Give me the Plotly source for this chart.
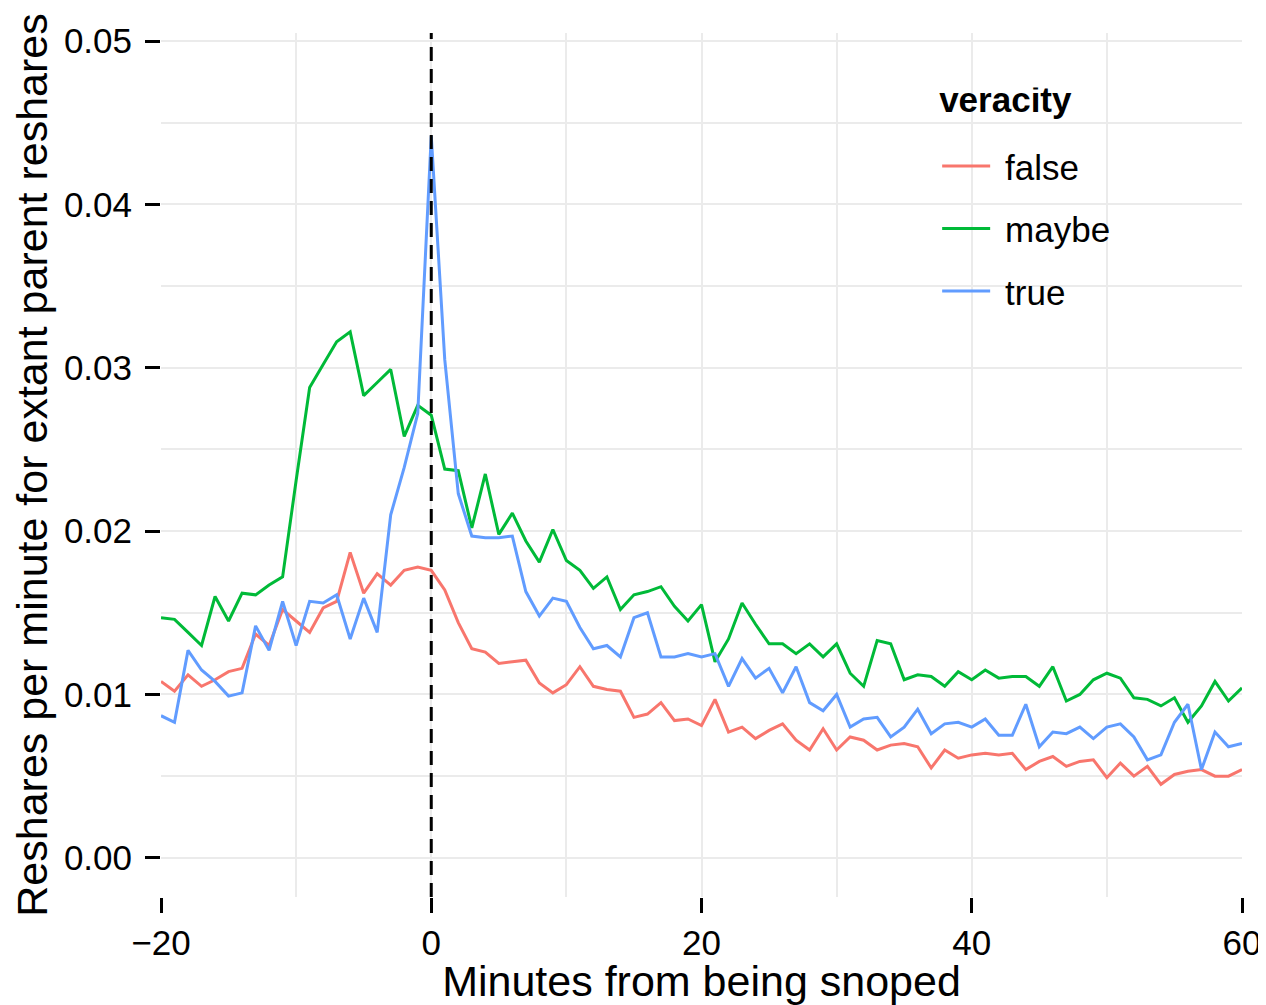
import plotly.graph_objects as go

minutes = list(range(-20, 61))

false_vals = [
    0.0108, 0.0102, 0.0112, 0.0105, 0.0109, 0.0114, 0.0116, 0.0137, 0.0130, 0.0152,
    0.0145, 0.0138, 0.0153, 0.0157, 0.0187, 0.0162, 0.0174, 0.0167, 0.0176, 0.0178,
    0.0176, 0.0164, 0.0144, 0.0128, 0.0126, 0.0119, 0.0120, 0.0121, 0.0107, 0.0101,
    0.0106, 0.0117, 0.0105, 0.0103, 0.0102, 0.0086, 0.0088, 0.0095, 0.0084, 0.0085,
    0.0081, 0.0097, 0.0077, 0.0080, 0.0073, 0.0078, 0.0082, 0.0072, 0.0066, 0.0079,
    0.0066, 0.0074, 0.0072, 0.0066, 0.0069, 0.0070, 0.0068, 0.0055, 0.0066, 0.0061,
    0.0063, 0.0064, 0.0063, 0.0064, 0.0054, 0.0059, 0.0062, 0.0056, 0.0059, 0.0060,
    0.0049, 0.0058, 0.0050, 0.0056, 0.0045, 0.0051, 0.0053, 0.0054, 0.0050, 0.0050,
    0.0054,
]

maybe_vals = [
    0.0147, 0.0146, 0.0138, 0.0130, 0.0160, 0.0145, 0.0162, 0.0161, 0.0167, 0.0172,
    0.0231, 0.0288, 0.0302, 0.0316, 0.0322, 0.0283, 0.0291, 0.0299, 0.0258, 0.0277,
    0.0271, 0.0238, 0.0237, 0.0202, 0.0235, 0.0198, 0.0211, 0.0194, 0.0181, 0.0201,
    0.0182, 0.0176, 0.0165, 0.0172, 0.0152, 0.0161, 0.0163, 0.0166, 0.0154, 0.0145,
    0.0155, 0.0120, 0.0134, 0.0156, 0.0143, 0.0131, 0.0131, 0.0125, 0.0131, 0.0123,
    0.0131, 0.0113, 0.0105, 0.0133, 0.0131, 0.0109, 0.0112, 0.0111, 0.0105, 0.0114,
    0.0109, 0.0115, 0.0110, 0.0111, 0.0111, 0.0105, 0.0117, 0.0096, 0.0100, 0.0109,
    0.0113, 0.0110, 0.0098, 0.0097, 0.0093, 0.0098, 0.0083, 0.0093, 0.0108, 0.0096,
    0.0104,
]

true_vals = [
    0.0087, 0.0083, 0.0127, 0.0115, 0.0108, 0.0099, 0.0101, 0.0142, 0.0127, 0.0157,
    0.0130, 0.0157, 0.0156, 0.0161, 0.0134, 0.0159, 0.0138, 0.0210, 0.0239, 0.0272,
    0.0442, 0.0305, 0.0223, 0.0197, 0.0196, 0.0196, 0.0197, 0.0163, 0.0148, 0.0159,
    0.0157, 0.0141, 0.0128, 0.0130, 0.0123, 0.0147, 0.0150, 0.0123, 0.0123, 0.0125,
    0.0123, 0.0125, 0.0105, 0.0122, 0.0110, 0.0116, 0.0101, 0.0117, 0.0095, 0.0090,
    0.0100, 0.0080, 0.0085, 0.0086, 0.0074, 0.0080, 0.0091, 0.0076, 0.0082, 0.0083,
    0.0080, 0.0085, 0.0075, 0.0075, 0.0094, 0.0068, 0.0077, 0.0076, 0.0080, 0.0073,
    0.0080, 0.0082, 0.0074, 0.0060, 0.0063, 0.0083, 0.0094, 0.0054, 0.0077, 0.0068,
    0.0070,
]

series_names = ["false", "maybe", "true"]
series_colors = ["#F8766D", "#00BA38", "#619CFF"]
series_values = [false_vals, maybe_vals, true_vals]

FONT = "Liberation Sans, Arial, Helvetica, sans-serif"
GRID = "#EBEBEB"
GAP = "\u2009\u200a"  # small spacing between legend line and label

fig = go.Figure()
for name, color, vals in zip(series_names, series_colors, series_values):
    fig.add_trace(go.Scatter(
        x=minutes, y=vals, mode="lines", name=GAP + name, legendgroup=name,
        line=dict(color=color, width=3),
    ))

fig.add_shape(type="line", x0=0, x1=0, xref="x", y0=0, y1=1, yref="paper",
              line=dict(color="black", width=3, dash="14px,8px"), layer="above")

fig.update_layout(
    width=1258, height=997,
    margin=dict(l=153, r=24, t=25, b=108, autoexpand=False),
    paper_bgcolor="white", plot_bgcolor="white",
    font=dict(family=FONT, size=35, color="black"),
    showlegend=True,
    legend=dict(
        x=0.718, y=0.937, xanchor="left", yanchor="top",
        bgcolor="rgba(0,0,0,0)",
        font=dict(family=FONT, size=35, color="black"),
        title=dict(text="<span style='font-size:35px'><b>veracity</b></span><br> ",
                   font=dict(family=FONT, size=19, color="black")),
        itemwidth=48, tracegroupgap=14,
    ),
    xaxis=dict(
        range=[-20, 60], tickvals=[-20, 0, 20, 40, 60],
        showgrid=True, gridcolor=GRID, gridwidth=1.5,
        minor=dict(tickvals=[-10, 10, 30, 50], showgrid=True, gridcolor=GRID, gridwidth=1.5, ticks=""),
        zeroline=False, showline=False,
        ticks="outside", ticklen=15, tickwidth=2.5, tickcolor="black",
        ticklabelstandoff=0,
        tickfont=dict(family=FONT, size=35, color="black"),
        title=dict(text="Minutes from being snoped", standoff=12,
                   font=dict(family=FONT, size=43, color="black")),
        automargin=False,
    ),
    yaxis=dict(
        range=[-0.0024, 0.0505], tickvals=[0, 0.01, 0.02, 0.03, 0.04, 0.05],
        tickformat=".2f",
        showgrid=True, gridcolor=GRID, gridwidth=1.5,
        minor=dict(tickvals=[0.005, 0.015, 0.025, 0.035, 0.045], showgrid=True, gridcolor=GRID, gridwidth=1.5, ticks=""),
        zeroline=False, showline=False,
        ticks="outside", ticklen=15, tickwidth=2.5, tickcolor="black",
        ticklabelstandoff=6,
        tickfont=dict(family=FONT, size=35, color="black"),
        title=dict(text="Reshares per minute for extant parent reshares", standoff=7,
                   font=dict(family=FONT, size=43, color="black")),
        automargin=False,
    ),
)

fig.write_html("out.html")
